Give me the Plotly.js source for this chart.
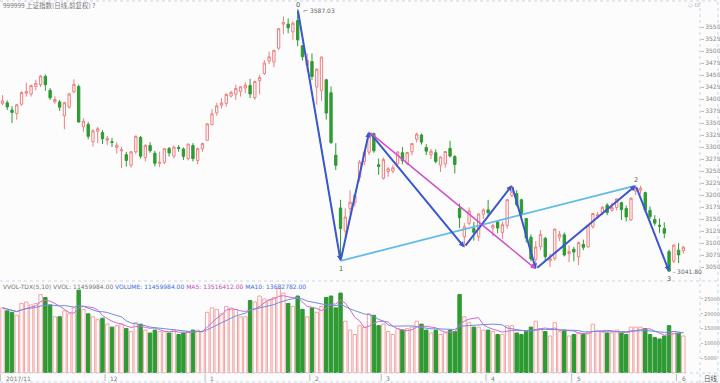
<!DOCTYPE html>
<html><head><meta charset="utf-8">
<script src="https://cdn.plot.ly/plotly-3.0.1.min.js"></script>
<style>html,body{margin:0;padding:0;background:#fcfcfc}#c{width:720px;height:383px}</style>
</head><body><div id="c"></div>
<script>
const dates = [
 '2017-11-01','2017-11-02','2017-11-03','2017-11-06','2017-11-07','2017-11-08','2017-11-09','2017-11-10','2017-11-13','2017-11-14','2017-11-15','2017-11-16','2017-11-17','2017-11-20','2017-11-21','2017-11-22','2017-11-23','2017-11-24','2017-11-27','2017-11-28','2017-11-29','2017-11-30',
 '2017-12-01','2017-12-04','2017-12-05','2017-12-06','2017-12-07','2017-12-08','2017-12-11','2017-12-12','2017-12-13','2017-12-14','2017-12-15','2017-12-18','2017-12-19','2017-12-20','2017-12-21','2017-12-22','2017-12-25','2017-12-26','2017-12-27','2017-12-28','2017-12-29',
 '2018-01-02','2018-01-03','2018-01-04','2018-01-05','2018-01-08','2018-01-09','2018-01-10','2018-01-11','2018-01-12','2018-01-15','2018-01-16','2018-01-17','2018-01-18','2018-01-19','2018-01-22','2018-01-23','2018-01-24','2018-01-25','2018-01-26','2018-01-29','2018-01-30','2018-01-31',
 '2018-02-01','2018-02-02','2018-02-05','2018-02-06','2018-02-07','2018-02-08','2018-02-09','2018-02-12','2018-02-13','2018-02-14','2018-02-22','2018-02-23','2018-02-26','2018-02-27','2018-02-28',
 '2018-03-01','2018-03-02','2018-03-05','2018-03-06','2018-03-07','2018-03-08','2018-03-09','2018-03-12','2018-03-13','2018-03-14','2018-03-15','2018-03-16','2018-03-19','2018-03-20','2018-03-21','2018-03-22','2018-03-23','2018-03-26','2018-03-27','2018-03-28','2018-03-29','2018-03-30',
 '2018-04-02','2018-04-03','2018-04-04','2018-04-09','2018-04-10','2018-04-11','2018-04-12','2018-04-13','2018-04-16','2018-04-17','2018-04-18','2018-04-19','2018-04-20','2018-04-23','2018-04-24','2018-04-25','2018-04-26','2018-04-27',
 '2018-05-02','2018-05-03','2018-05-04','2018-05-07','2018-05-08','2018-05-09','2018-05-10','2018-05-11','2018-05-14','2018-05-15','2018-05-16','2018-05-17','2018-05-18','2018-05-21','2018-05-22','2018-05-23','2018-05-24','2018-05-25','2018-05-28','2018-05-29','2018-05-30','2018-05-31',
 '2018-06-01','2018-06-04'];

const open = [3391,3392,3377,3370,3389,3412,3410,3426,3430,3447,3418,3394,3394,3365,3383,3415,3426,3342,3347,3311,3333,3330,
 3314,3311,3299,3292,3284,3262,3290,3320,3278,3303,3287,3266,3268,3297,3281,3299,3296,3276,3303,3272,3296,
 3314,3347,3371,3387,3391,3406,3410,3416,3423,3428,3403,3438,3453,3479,3477,3506,3556,3556,3540,3563.6,3511,3470,
 3478,3425,3418,3440,3413,3283,3173,3125,3172,3184,3236,3270,3289,3328,3263,
 3235,3249,3250,3265,3288,3266,3290,3316,3325,3299,3284,3288,3262,3265,3297,3280,3172,3113,3141,3130,3113,3160,
 3169,3131,3144,3122,3136,3199,3203,3190,3151,3112,3066,3092,3110,3063,3068,3112,3117,3078,
 3087,3071,3097,3092,3134,3155,3163,3179,3168,3174,3184,3172,3148,3208,3210,3205,3168,3149,3137,3130,3082,3062,
 3085,3084];
const high = [3408,3397,3385,3390,3416,3434,3430,3440,3450,3451,3423,3406,3398,3394,3413,3441,3430,3360,3352,3337,3342,3335,
 3323,3319,3310,3300,3290,3292,3324,3323,3306,3310,3292,3290,3297,3300,3303,3304,3299,3307,3308,3299,3309,
 3349,3379,3392,3402,3412,3417,3430,3427,3435,3442,3438,3450,3481,3499,3502,3547,3572,3568,3562,3587.03,3512,3495,
 3495,3464,3488,3442,3426,3308,3190,3172,3210,3202,3273,3290,3331.5,3330,3276,
 3278,3258,3263,3291,3300,3290,3308,3330,3328,3306,3296,3295,3280,3291,3313,3283,3182,3142,3174,3144,3162,3172,
 3190,3140,3146,3145,3191,3220.3,3210,3192,3152,3118,3104,3127,3112,3078,3130,3125,3122,3095,
 3092,3103,3107,3137,3162,3165,3177,3183,3184,3192,3186,3178,3195,3219.74,3219,3207,3176,3158,3151,3143,3086,3098,
 3100,3094];
const low = [3387,3377,3350,3357,3386,3405,3405,3418,3425,3417,3398,3390,3375,3337,3380,3412,3351,3332,3316,3301,3308,3306,
 3304,3300,3286,3256,3259,3257,3285,3276,3270,3288,3260,3258,3264,3280,3276,3290,3273,3272,3270,3264,3290,
 3314,3345,3365,3380,3384,3403,3398,3405,3412,3402,3398,3410,3450,3473,3466,3502,3535,3537,3523,3510,3480,3457,
 3440,3388,3396,3357,3306,3252,3062.74,3110,3160,3176,3228,3262,3283,3288,3242,
 3232,3238,3245,3261,3264,3262,3283,3309,3305,3283,3275,3266,3248,3257,3278,3245,3131,3091.3,3136,3105,3104,3150,
 3155,3114,3120,3108,3130,3195,3176,3155,3101,3062,3046,3085,3063,3050,3063,3104,3072,3060,
 3062,3054,3085,3090,3130,3150,3158,3158,3165,3168,3148,3145,3146,3200,3202,3164,3150,3136,3121,3110,3041,3058,
 3058,3078];
const close = [3396,3383.5,3372,3388,3413.6,3415.5,3427.8,3432.7,3447.8,3429.6,3402.5,3399,3383,3392.4,3410.5,3430.5,3351.9,3353.8,3322.2,3333.7,3337.9,3317.2,
 3317.6,3309.6,3303.7,3294,3272,3290,3322.2,3280.8,3303,3292.4,3266.1,3267.9,3296.5,3287.6,3300,3297,3280.5,3306.1,3275.8,3296.4,3307.2,
 3348.3,3369.1,3385.7,3391.8,3409.5,3413.9,3421.8,3425.3,3428.9,3410.5,3436.6,3444.7,3474.75,3487.9,3501.4,3546.5,3559.5,3548.3,3558.1,3523,3488,3480.8,
 3447,3462,3487.5,3370.7,3309.3,3262,3129.85,3154.1,3185,3199.2,3268.6,3289,3329.6,3292.1,3259.4,
 3273.75,3254.5,3256.9,3289.6,3271.7,3288.4,3307.2,3326.7,3310.2,3291.4,3291.1,3269.9,3279.2,3290.6,3281,3263.5,3152.8,3133.7,3166.65,3122.3,3160.5,3168.9,
 3163.2,3136.6,3131.1,3138.3,3190.3,3208,3180.2,3159,3110.65,3066.8,3091.5,3117.4,3071.5,3068,3128.9,3118,3075,3082.2,
 3081.2,3100.9,3091,3136.6,3161.5,3159.2,3174.4,3163.3,3174,3192.1,3169.6,3154.3,3193.3,3213.8,3214.35,3169,3154.65,3141.3,3135,3120.5,3041.4,3095.5,
 3075.1,3091.2];
// volume in 10^4 lots
const volume = [22000,21000,20500,19500,23500,24000,23000,23500,26500,25500,23000,19000,19000,21000,20000,22000,28000,21500,20000,19000,18000,18500,
 16500,15500,16000,16500,15000,14000,17000,16500,14500,13500,14500,14000,14000,13500,14500,13000,13500,14000,14500,14500,14000,
 20500,22000,21500,20000,22500,22000,21500,19000,19000,24500,24000,26000,25000,24500,25500,28500,27000,23500,22500,26000,21500,19000,
 22000,20500,22500,25500,26000,22000,27000,17500,14500,13000,16000,15500,20000,19500,16000,
 16500,14000,13000,15000,14500,15000,15500,17500,16500,14500,13500,14500,13000,13500,14500,14000,26500,19000,17000,15500,15500,14500,
 14500,14000,13000,13000,16000,16000,13500,13000,14000,15500,17500,15000,14000,12500,17000,14000,14500,12500,
 13000,13500,13000,14000,16500,14000,14000,13500,13500,14500,13500,13000,15500,15500,15500,15000,13000,12000,11500,12500,16000,14000,
 13500,12500];

const zzDates  = ['2018-01-29','2018-02-09','2018-02-26','2018-03-26','2018-04-11','2018-04-18','2018-05-21','2018-05-30'];
const zzPrices = [3587.03, 3062.74, 3331.5, 3091.3, 3220.3, 3046, 3219.74, 3041.0];
const waveLabels = ['0','1','','','','','2','3'];
const monthTicks = ['2017-11-01','2017-12-01','2018-01-02','2018-02-01','2018-03-01','2018-04-02','2018-05-02','2018-06-01'];
const monthText  = ['2017/11','12','1','2','3','4','5','6'];
const priceTicks = [3050,3075,3100,3125,3150,3175,3200,3225,3250,3275,3300,3325,3350,3375,3400,3425,3450,3475,3500,3525,3550];
const volTicks = [5000,10000,15000,20000,25000];

const idx = d => dates.indexOf(d);
const UP = '#f07f7f', DN = '#2e9a33';

const ma = n => volume.map((v,i)=>{const s=Math.max(0,i-n+1);let t=0;for(let k=s;k<=i;k++)t+=volume[k];return t/(i-s+1);});

const traces = [
 {type:'candlestick', x:dates, open:open, high:high, low:low, close:close, xaxis:'x', yaxis:'y',
  increasing:{line:{color:UP,width:1}, fillcolor:'rgba(255,255,255,0)'},
  decreasing:{line:{color:DN,width:1}, fillcolor:DN}, whiskerwidth:0, hoverinfo:'skip'},
 {type:'bar', x:dates, y:volume, xaxis:'x', yaxis:'y2', hoverinfo:'skip',
  marker:{color: close.map((c,i)=> c>=open[i] ? 'rgba(255,255,255,0)' : DN),
          line:{color: close.map((c,i)=> c>=open[i] ? '#f4a3a3' : DN), width:1}}},
 {type:'scatter', mode:'lines', x:dates, y:ma(5), xaxis:'x', yaxis:'y2', line:{color:'#d36ad3',width:1}, hoverinfo:'skip'},
 {type:'scatter', mode:'lines', x:dates, y:ma(10), xaxis:'x', yaxis:'y2', line:{color:'#6a8fe0',width:1}, hoverinfo:'skip'},
 {type:'scatter', mode:'lines', x:[zzDates[0],zzDates[1],zzDates[2],zzDates[3]], y:[zzPrices[0],zzPrices[1],zzPrices[2],zzPrices[3]], xaxis:'x', yaxis:'y', line:{color:'#8fa6ef',width:1}, hoverinfo:'skip'},
 {type:'scatter', mode:'lines', x:[zzDates[1],zzDates[6]], y:[zzPrices[1],zzPrices[6]], xaxis:'x', yaxis:'y', line:{color:'#5fbce8',width:1.8}, hoverinfo:'skip'}
];

const ann = [];
for (let k=0;k<zzDates.length-1;k++){
  ann.push({xref:'x',yref:'y',axref:'x',ayref:'y', x:idx(zzDates[k+1]), y:zzPrices[k+1], ax:idx(zzDates[k]), ay:zzPrices[k],
    text:'', showarrow:true, arrowhead:2, arrowsize:0.55, arrowwidth:2, arrowcolor:'#3b57cf', standoff:0, startstandoff:0});
}
ann.push({xref:'x',yref:'y',axref:'x',ayref:'y', x:idx(zzDates[5]), y:zzPrices[5], ax:idx(zzDates[2]), ay:zzPrices[2],
  text:'', showarrow:true, arrowhead:2, arrowsize:0.7, arrowwidth:1.5, arrowcolor:'#cf4fcf', standoff:0});
const lblFont = {family:'DejaVu Sans', size:6.5, color:'#555'};
waveLabels.forEach((t,k)=>{
  if(!t) return;
  const up = (k===0||k===6);
  ann.push({xref:'x',yref:'y',x:idx(zzDates[k]),y:zzPrices[k],text:t,showarrow:false,font:lblFont,yshift: up?(k===0?4.5:6):-8});
});
ann.push({xref:'x',yref:'y',x:idx(zzDates[0]),y:zzPrices[0],text:'⌐ '+zzPrices[0].toFixed(2),showarrow:false,font:{family:'DejaVu Sans',size:6,color:'#666'},xanchor:'left',xshift:3,yshift:-1});
ann.push({xref:'x',yref:'y',x:idx(zzDates[7]),y:zzPrices[7],text:'- 3041.80',showarrow:false,font:{family:'DejaVu Sans',size:6,color:'#666'},xanchor:'left',xshift:2,yshift:0});
ann.push({xref:'paper',yref:'paper',x:0.002,y:1-5/383,text:'999999 上证指数(日线,前复权) ?',showarrow:false,xanchor:'left',yanchor:'middle',font:{family:'Noto Sans CJK SC',size:6.5,color:'#777'}});
ann.push({xref:'paper',yref:'paper',x:0.002,y:1-286/383,text:'VVOL-TDX(5,10) VVOL: 11459984.00 <span style="color:#3f6fe0">VOLUME: 11459984.00</span> <span style="color:#c050c0">MA5: 13516412.00</span> <span style="color:#3f6fe0">MA10: 13682782.00</span>',showarrow:false,xanchor:'left',yanchor:'middle',font:{family:'DejaVu Sans',size:6,color:'#777'}});
ann.push({xref:'paper',yref:'paper',x:694/720,y:1-5/383,text:'◇ ⊡',showarrow:false,xanchor:'center',yanchor:'middle',font:{family:'DejaVu Sans',size:6,color:'#999'}});
ann.push({xref:'paper',yref:'paper',x:711/720,y:1-378/383,text:'日线',showarrow:false,xanchor:'center',yanchor:'middle',font:{family:'Noto Sans CJK SC',size:6.5,color:'#555'}});
monthTicks.forEach((d,k)=>{
  ann.push({xref:'x',yref:'paper',x:idx(d),y:1-378/383,text:monthText[k],showarrow:false,xanchor:'left',yanchor:'middle',xshift:1,font:{family:'DejaVu Sans',size:6,color:'#777'}});
});

const shapes = [];
const dash = {color:'#c9d3e6',width:1,dash:'dot'};
const hl = py => ({type:'line',xref:'paper',yref:'paper',x0:0,x1:1,y0:1-py/383,y1:1-py/383,line:dash});
shapes.push(hl(1), hl(281), hl(373), hl(382));
shapes.push({type:'line',xref:'paper',yref:'paper',x0:700/720,x1:700/720,y0:0,y1:1,line:dash});
shapes.push({type:'line',xref:'paper',yref:'paper',x0:718/720,x1:718/720,y0:0,y1:1,line:dash});
monthTicks.forEach(d=>{
  shapes.push({type:'line',xref:'x',yref:'paper',x0:idx(d)-0.45,x1:idx(d)-0.45,y0:1-374/383,y1:1-381/383,line:{color:'#bbb',width:1}});
});

const layout = {
  width:720, height:383, margin:{l:0,r:0,t:0,b:0}, paper_bgcolor:'#fcfcfc', plot_bgcolor:'#fcfcfc',
  showlegend:false, boxgap:0.3, bargap:0.28, hovermode:false,
  xaxis:{type:'category', domain:[0,700/720], range:[-0.525,146.5], anchor:'y2', showgrid:false, zeroline:false,
    showline:false, showticklabels:false, ticks:'', rangeslider:{visible:false}},
  yaxis:{domain:[1-281/383,1-1/383], range:[3550-254/0.48, 3550+26/0.48], side:'right', anchor:'x', tickvals:priceTicks,
    ticks:'outside', ticklen:3, tickcolor:'#bbb', tickfont:{family:'DejaVu Sans',size:6,color:'#888'}, showgrid:false, zeroline:false, showline:false},
  yaxis2:{domain:[1-373/383,1-283/383], range:[0,30400], side:'right', anchor:'x', tickvals:volTicks, tickformat:'d',
    ticks:'outside', ticklen:2, tickcolor:'#bbb', tickfont:{family:'DejaVu Sans',size:5,color:'#888'}, showgrid:false, zeroline:false, showline:false},
  annotations:ann, shapes:shapes, font:{family:'DejaVu Sans'}
};
Plotly.newPlot('c', traces, layout, {staticPlot:true});
</script></body></html>
